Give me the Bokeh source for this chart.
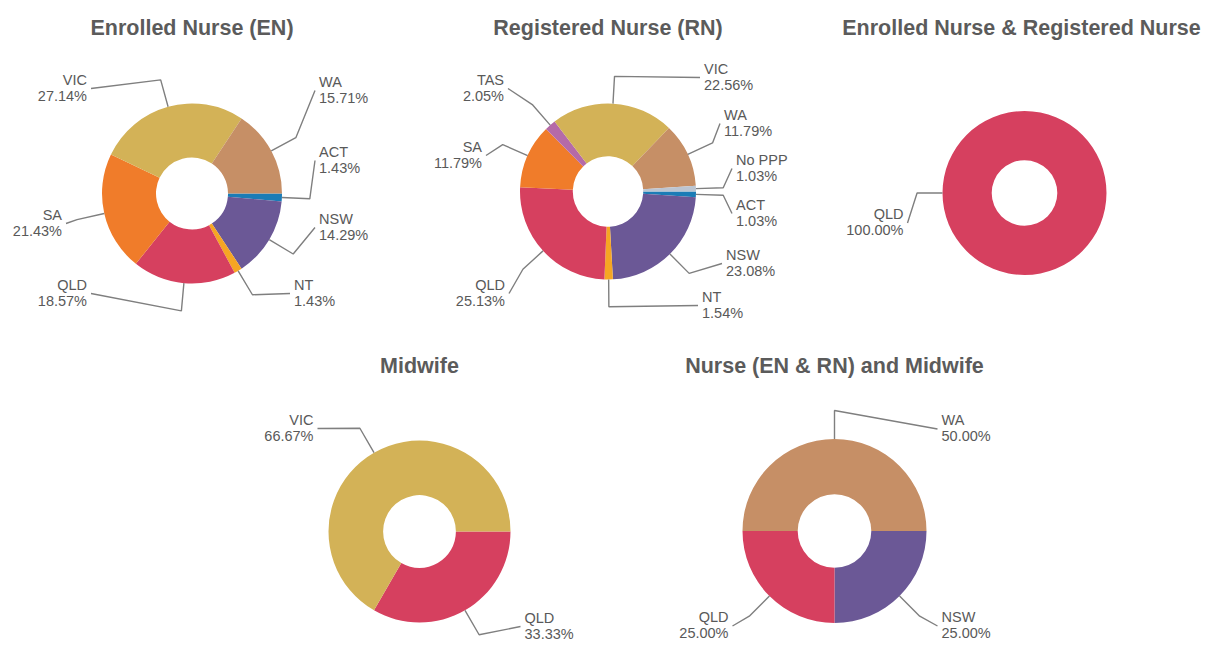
import math
from bokeh.plotting import figure
from bokeh.models import Range1d, Title, Spacer
from bokeh.layouts import row, column
from bokeh.embed import file_html
from bokeh.resources import INLINE
from bokeh.core.properties import value

# ---------------- data ----------------
en_states = ["ACT", "NSW", "NT", "QLD", "SA", "VIC", "WA"]
en_pct = [1.43, 14.29, 1.43, 18.57, 21.43, 27.14, 15.71]

rn_states = ["ACT", "NSW", "NT", "QLD", "SA", "TAS", "VIC", "WA", "No PPP"]
rn_pct = [1.03, 23.08, 1.54, 25.13, 11.79, 2.05, 22.56, 11.79, 1.03]

enrn_states = ["QLD"]
enrn_pct = [100.00]

mw_states = ["QLD", "VIC"]
mw_pct = [33.33, 66.67]

nm_states = ["NSW", "QLD", "WA"]
nm_pct = [25.00, 25.00, 50.00]

titles = ["Enrolled Nurse (EN)", "Registered Nurse (RN)",
          "Enrolled Nurse & Registered Nurse", "Midwife",
          "Nurse (EN & RN) and Midwife"]

# ---------------- styles ----------------
state_colors = {
    "ACT": "#1b7cb6", "NSW": "#6b5896", "NT": "#f6a623", "QLD": "#d6405f",
    "SA": "#f07c2a", "TAS": "#b56aa8", "VIC": "#d3b257", "WA": "#c68f66",
    "No PPP": "#bcc5d1",
}
TITLE_COLOR = "#5b5b5b"
LABEL_COLOR = "#595959"
LINE_COLOR = "#7f7f7f"
FONT = "Liberation Sans"
T_PANEL = 36  # estimated title panel height

# label anchor offsets (relative to pie centre, px; layout only)
en_lab = {"ACT": (123, -33), "NSW": (123, 34), "NT": (98, 100), "QLD": (-101, 100),
          "SA": (-126, 30), "VIC": (-101, -105), "WA": (123, -103)}
rn_lab = {"VIC": (92, -114), "WA": (112, -68), "No PPP": (124, -23), "ACT": (124, 22),
          "NSW": (114, 72), "NT": (90, 114), "QLD": (-99, 102), "SA": (-122, -36),
          "TAS": (-100, -103)}
enrn_lab = {"QLD": (-117, 30)}
mw_lab = {"VIC": (-102, -103), "QLD": (101, 95)}
nm_lab = {"WA": (103, -102), "NSW": (103, 95), "QLD": (-102, 95)}


def donut(title, states, pcts, box, centre, r, lab):
    x0, y0, w, fh = box
    p = figure(frame_width=w, frame_height=fh, output_backend="svg",
               toolbar_location=None, x_axis_type=None, y_axis_type=None,
               x_range=Range1d(x0, x0 + w),
               y_range=Range1d(-(y0 + T_PANEL + fh), -(y0 + T_PANEL)),
               min_border=0, outline_line_color=None,
               background_fill_color="white", border_fill_color="white")
    p.grid.visible = False
    p.title = Title(text=title, align="center", text_font=FONT,
                    text_font_size="21.5px", text_font_style="bold",
                    text_color=TITLE_COLOR)
    cx, cy = centre
    total = sum(pcts)
    cum = 0.0
    starts, ends, cols = [], [], []
    xs, ys = [], []
    lx_l, ly_l, nm_l, pc_l = [], [], [], []
    lx_r, ly_r, nm_r, pc_r = [], [], [], []
    for s, v in zip(states, pcts):
        a0 = cum / total * 2 * math.pi
        cum += v
        a1 = cum / total * 2 * math.pi
        # clockwise on screen from 3 o'clock
        starts.append(-a1)
        ends.append(-a0)
        cols.append(state_colors[s])
        mid = (a0 + a1) / 2
        ex, ey = cx + r * math.cos(mid), cy + r * math.sin(mid)
        bx, by = cx + 1.31 * r * math.cos(mid), cy + 1.31 * r * math.sin(mid)
        dx, dy = lab[s]
        tx, ty = cx + dx, cy + dy
        xs.append([ex, bx, tx])
        ys.append([-ey, -by, -ty])
        if dx >= 0:
            lx_r.append(tx + 4); ly_r.append(-ty); nm_r.append(s); pc_r.append(f"{v:.2f}%")
        else:
            lx_l.append(tx - 4); ly_l.append(-ty); nm_l.append(s); pc_l.append(f"{v:.2f}%")
    p.annular_wedge(x=cx, y=-cy, inner_radius=0.4 * r, outer_radius=r,
                    start_angle=starts, end_angle=ends, direction="anticlock",
                    fill_color=cols, line_color=None)
    p.multi_line(xs=xs, ys=ys, line_color=LINE_COLOR, line_width=1.4)
    for lx, ly, nm, pc, al in ((lx_r, ly_r, nm_r, pc_r, "left"), (lx_l, ly_l, nm_l, pc_l, "right")):
        if not lx:
            continue
        p.text(x=lx, y=[y + 1 for y in ly], text=nm, text_align=al, text_baseline="bottom",
               text_font=value(FONT), text_font_size="14.5px", text_color=LABEL_COLOR)
        p.text(x=lx, y=[y + 1 for y in ly], text=pc, text_align=al, text_baseline="top",
               text_font=value(FONT), text_font_size="14.5px", text_color=LABEL_COLOR)
    return p


TOP_Y, BOT_Y, END_Y = 8, 346, 647
fh_top = BOT_Y - TOP_Y - T_PANEL
fh_bot = END_Y - BOT_Y - T_PANEL

p1 = donut(titles[0], en_states, en_pct, (0, TOP_Y, 383, fh_top), (191.5, 193), 90, en_lab)
p2 = donut(titles[1], rn_states, rn_pct, (383, TOP_Y, 449, fh_top), (607.5, 191), 88, rn_lab)
p3 = donut(titles[2], enrn_states, enrn_pct, (832, TOP_Y, 378, fh_top), (1024, 192.5), 82, enrn_lab)
p4 = donut(titles[3], mw_states, mw_pct, (212, BOT_Y, 414, fh_bot), (419, 531), 91, mw_lab)
p5 = donut(titles[4], nm_states, nm_pct, (626, BOT_Y, 416, fh_bot), (834, 530.5), 92, nm_lab)

layout = column(Spacer(width=10, height=TOP_Y),
                row(p1, p2, p3),
                row(Spacer(width=212, height=10), p4, p5))

open("out.html", "w").write(file_html(layout, INLINE))
